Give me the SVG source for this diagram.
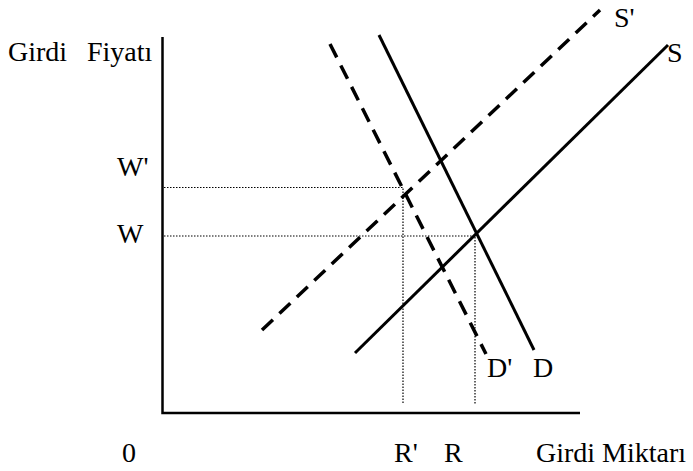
<svg xmlns="http://www.w3.org/2000/svg" width="693" height="471" viewBox="0 0 693 471">
<style>
.lbl{font-family:'Liberation Serif','Times New Roman','DejaVu Serif',serif;font-size:28px;fill:#000}
.axis{stroke:#000;stroke-width:2.5;fill:none}
.solid{stroke:#000;stroke-width:3;fill:none}
.dash{stroke:#000;stroke-width:3.5;fill:none;stroke-dasharray:15 9}
.dot{stroke:#000;stroke-width:1.2;fill:none;stroke-dasharray:1.5 1.5}
</style>
<rect width="693" height="471" fill="#fff"/>
<g id="axes">
<path class="axis" d="M162.5 37 V413 H580"/>
</g>
<g id="connectors">
<path class="dot" d="M164 187.5 H403 V404"/>
<path class="dot" d="M164 236 H475 V404"/>
<path id="S" class="solid" d="M355 353 L668 45"/>
<path id="Sprime" class="dash" d="M262 330 L600 10"/>
<path id="D" class="solid" d="M379 35 L534 350"/>
<path id="Dprime" class="dash" d="M330 44 L486 354"/>
</g>
<g id="labels" class="lbl" font-family="Liberation Serif, serif">
<text x="8" y="61">Girdi <tspan x="87">Fiyatı</tspan></text>
<text x="117" y="176">W'</text>
<text x="117" y="243">W</text>
<text x="614" y="27">S'</text>
<text x="667" y="62">S</text>
<text x="487" y="377">D'</text>
<text x="533" y="377">D</text>
<text x="122" y="462">0</text>
<text x="394" y="462">R'</text>
<text x="444" y="462">R</text>
<text x="536" y="462">Girdi Miktarı</text>
</g>
</svg>
